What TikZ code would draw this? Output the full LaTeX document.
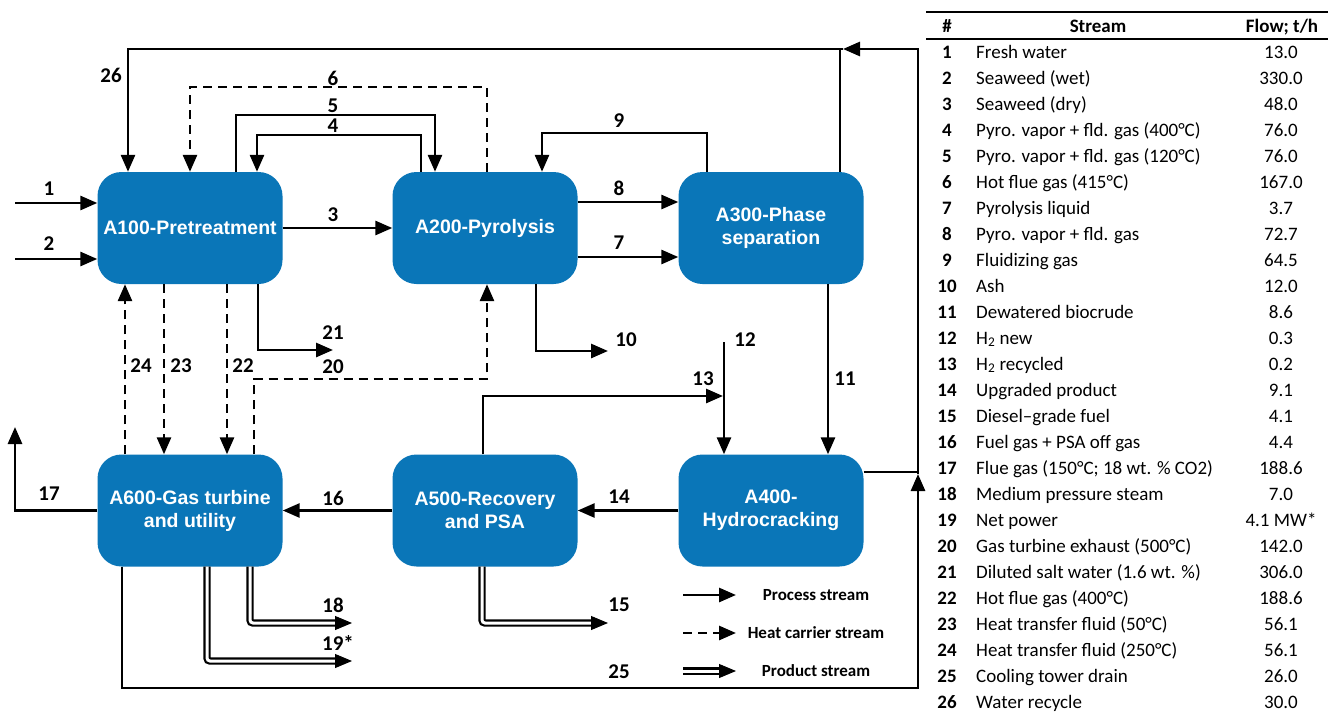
\documentclass[tikz,border=0pt]{standalone}
\usepackage{fontspec}
\setmainfont{Carlito}
\newfontfamily\boxfont{Liberation Sans}
\usetikzlibrary{arrows.meta,calc}
\definecolor{boxblue}{RGB}{10,118,184}
\begin{document}
\begin{tikzpicture}[x=1pt,y=-1pt,
  unit/.style={fill=boxblue, rounded corners=24pt, minimum width=185pt, minimum height=112pt, text=white, align=center, font=\boxfont\bfseries\fontsize{19.5}{23}\selectfont, inner sep=0pt},
  procline/.style={line width=2.8pt},
  proc/.style={procline, -{Triangle[length=17pt,width=14pt]}},
  heat/.style={proc, dash pattern=on 9pt off 6pt},
  prod/.style={line width=2.2pt, double=white, double distance=3pt, shorten >=12pt, rounded corners=3pt},
  prodtip/.style={-{Triangle[length=17pt,width=14pt]}, line width=1pt},
  lbl/.style={font=\bfseries\fontsize{21}{21}\selectfont, inner sep=0pt},
  leg/.style={font=\bfseries\fontsize{17}{17}\selectfont, inner sep=0pt},
  tnum/.style={font=\bfseries\fontsize{19}{19}\selectfont, inner sep=0pt, anchor=base},
  ttxt/.style={font=\fontsize{19}{19}\selectfont, inner sep=0pt, anchor=base west},
  tflow/.style={font=\fontsize{19}{19}\selectfont, inner sep=0pt, anchor=base},
  thead/.style={font=\bfseries\fontsize{19}{19}\selectfont, inner sep=0pt, anchor=base}
]
\useasboundingbox (0,0) rectangle (1328,712);
\fill[white] (0,0) rectangle (1328,712);

% units
\node[unit] (A100) at (190,228) {A100-Pretreatment};
\node[unit] (A200) at (485,228) {A200-Pyrolysis};
\node[unit] (A300) at (771,228) {A300-Phase\\separation};
\node[unit] (A600) at (190,510.5) {A600-Gas turbine\\and utility};
\node[unit] (A500) at (485,510.5) {A500-Recovery\\and PSA};
\node[unit] (A400) at (771,510.5) {A400-\\Hydrocracking};

% free ends
\coordinate (in1) at (15,203);
\coordinate (in2) at (15,259);
\coordinate (TR) at (918,49);
\coordinate (TA) at (843,49);
\coordinate (BL) at (122,688);
\coordinate (BR) at (918,688);
\coordinate (RA) at (918,474);
\coordinate (e10) at (608,351);
\coordinate (e21) at (333,350);
\coordinate (e17) at (15,427);
\coordinate (e13) at (723,396);
\coordinate (s12) at (724,342);
\coordinate (e15) at (608,623);
\coordinate (e18) at (352,623);
\coordinate (e19) at (352,661);

% streams 1,2,3
\draw[proc] (in1) -- (in1 -| A100.west);
\draw[proc] (in2) -- (in2 -| A100.west);
\draw[proc] (A100.east) -- (A200.west);

% 26 / 25 loop
\draw[proc] (122,0 |- A600.south) -- (BL) -- (BR) -- (RA);
\draw[proc] (RA) -- (TR) -- (TA);
\draw[proc] (TA) -- (128,49) -- (128,0 |- A100.north);
\draw[procline] (A400.east |- 0,472) -- (918,472);
\draw[procline] (840,0 |- A300.north) -- (840,49);

% 6,5,4
\draw[heat] (487,0 |- A200.north) -- (487,87) -- (190,87) -- (190,0 |- A100.north);
\draw[proc] (236,0 |- A100.north) -- (236,115) -- (435,115) -- (435,0 |- A200.north);
\draw[proc] (421,0 |- A200.north) -- (421,135) -- (257,135) -- (257,0 |- A100.north);

% 9,8,7
\draw[proc] (707,0 |- A300.north) -- (707,133) -- (542,133) -- (542,0 |- A200.north);
\draw[proc] (A200.east |- 0,202) -- (A300.west |- 0,202);
\draw[proc] (A200.east |- 0,257) -- (A300.west |- 0,257);

% 10, 21, 20
\draw[proc] (536,0 |- A200.south) -- (536,351) -- (e10);
\draw[proc] (258,0 |- A100.south) -- (258,350) -- (e21);
\draw[heat] (254,0 |- A600.north) -- (254,379) -- (487,379) -- (487,0 |- A200.south);

% 24, 23, 22
\draw[heat] (125,0 |- A600.north) -- (125,0 |- A100.south);
\draw[heat] (164,0 |- A100.south) -- (164,0 |- A600.north);
\draw[heat] (227,0 |- A100.south) -- (227,0 |- A600.north);

% 17, 16, 14
\draw[proc] (A600.west) -- (15,510.5) -- (e17);
\draw[proc] (A500.west) -- (A600.east);
\draw[proc] (A400.west) -- (A500.east);

% 13, 12, 11
\draw[proc] (483,0 |- A500.north) -- (483,396) -- (e13);
\draw[proc] (s12) -- (s12 |- A400.north);
\draw[proc] (828,0 |- A300.south) -- (828,0 |- A400.north);

% product streams
\draw[prod] (482,0 |- A500.south) -- (482,623) -- (e15);
\draw[prodtip] ($(e15)+(-17,0)$) -- (e15);
\draw[prod] (250,0 |- A600.south) -- (250,623) -- (e18);
\draw[prodtip] ($(e18)+(-17,0)$) -- (e18);
\draw[prod] (207,0 |- A600.south) -- (207,661) -- (e19);
\draw[prodtip] ($(e19)+(-17,0)$) -- (e19);

% labels
\node[lbl] (l1) at (49,189) {1};
\node[lbl] (l2) at (49,244) {2};
\node[lbl] (l3) at (333,215) {3};
\node[lbl] (l4) at (333,126) {4};
\node[lbl] (l5) at (333,106) {5};
\node[lbl] (l6) at (333,78) {6};
\node[lbl] (l7) at (619,243) {7};
\node[lbl] (l8) at (619,188) {8};
\node[lbl] (l9) at (619,121) {9};
\node[lbl] (l10) at (626,340) {10};
\node[lbl] (l11) at (845,379) {11};
\node[lbl] (l12) at (745,340) {12};
\node[lbl] (l13) at (703,379) {13};
\node[lbl] (l14) at (619,497) {14};
\node[lbl] (l15) at (619,605) {15};
\node[lbl] (l16) at (333,498) {16};
\node[lbl] (l17) at (49,494) {17};
\node[lbl] (l18) at (333,605) {18};
\node[lbl] (l19) at (338,643) {19*};
\node[lbl] (l20) at (333,367) {20};
\node[lbl] (l21) at (333,333) {21};
\node[lbl] (l22) at (243,366) {22};
\node[lbl] (l23) at (181,366) {23};
\node[lbl] (l24) at (141,366) {24};
\node[lbl] (l25) at (619,672) {25};
\node[lbl] (l26) at (111,75) {26};

% legend
\coordinate (lp1) at (683,595); \coordinate (lp2) at (736,595);
\coordinate (lh1) at (683,633); \coordinate (lh2) at (736,633);
\coordinate (lr1) at (683,671); \coordinate (lr2) at (736,671);
\draw[proc] (lp1) -- (lp2);
\draw[heat] (lh1) -- (lh2);
\draw[prod] (lr1) -- (lr2);
\draw[prodtip] ($(lr2)+(-17,0)$) -- (lr2);
\node[leg] (tp) at (816,595) {Process stream};
\node[leg] (th) at (816,633) {Heat carrier stream};
\node[leg] (tr) at (816,671) {Product stream};

% table
\draw[line width=2pt] (926,12) -- (1328,12);
\draw[line width=2.5pt] (926,39) -- (1328,39);
\node[thead] (h1) at (947,32) {\#};
\node[thead] (h2) at (1098,32) {Stream};
\node[thead] (h3) at (1282,32) {Flow; t/h};
\foreach \s/\f [count=\i] in {
  {Fresh water}/{13.0},
  {Seaweed (wet)}/{330.0},
  {Seaweed (dry)}/{48.0},
  {Pyro. vapor + fld. gas (400°C)}/{76.0},
  {Pyro. vapor + fld. gas (120°C)}/{76.0},
  {Hot flue gas (415°C)}/{167.0},
  {Pyrolysis liquid}/{3.7},
  {Pyro. vapor + fld. gas}/{72.7},
  {Fluidizing gas}/{64.5},
  {Ash}/{12.0},
  {Dewatered biocrude}/{8.6},
  {H\textsubscript{2} new}/{0.3},
  {H\textsubscript{2} recycled}/{0.2},
  {Upgraded product}/{9.1},
  {Diesel–grade fuel}/{4.1},
  {Fuel gas + PSA off gas}/{4.4},
  {Flue gas (150°C; 18 wt. \% CO2)}/{188.6},
  {Medium pressure steam}/{7.0},
  {Net power}/{4.1 MW*},
  {Gas turbine exhaust (500°C)}/{142.0},
  {Diluted salt water (1.6 wt. \%)}/{306.0},
  {Hot flue gas (400°C)}/{188.6},
  {Heat transfer fluid (50°C)}/{56.1},
  {Heat transfer fluid (250°C)}/{56.1},
  {Cooling tower drain}/{26.0},
  {Water recycle}/{30.0}} {
  \node[tnum] (n\i) at (947,{58+26*(\i-1)}) {\i};
  \node[ttxt] (s\i) at (976,{58+26*(\i-1)}) {\s};
  \node[tflow] (f\i) at (1281,{58+26*(\i-1)}) {\f};
}
\end{tikzpicture}
\end{document}
